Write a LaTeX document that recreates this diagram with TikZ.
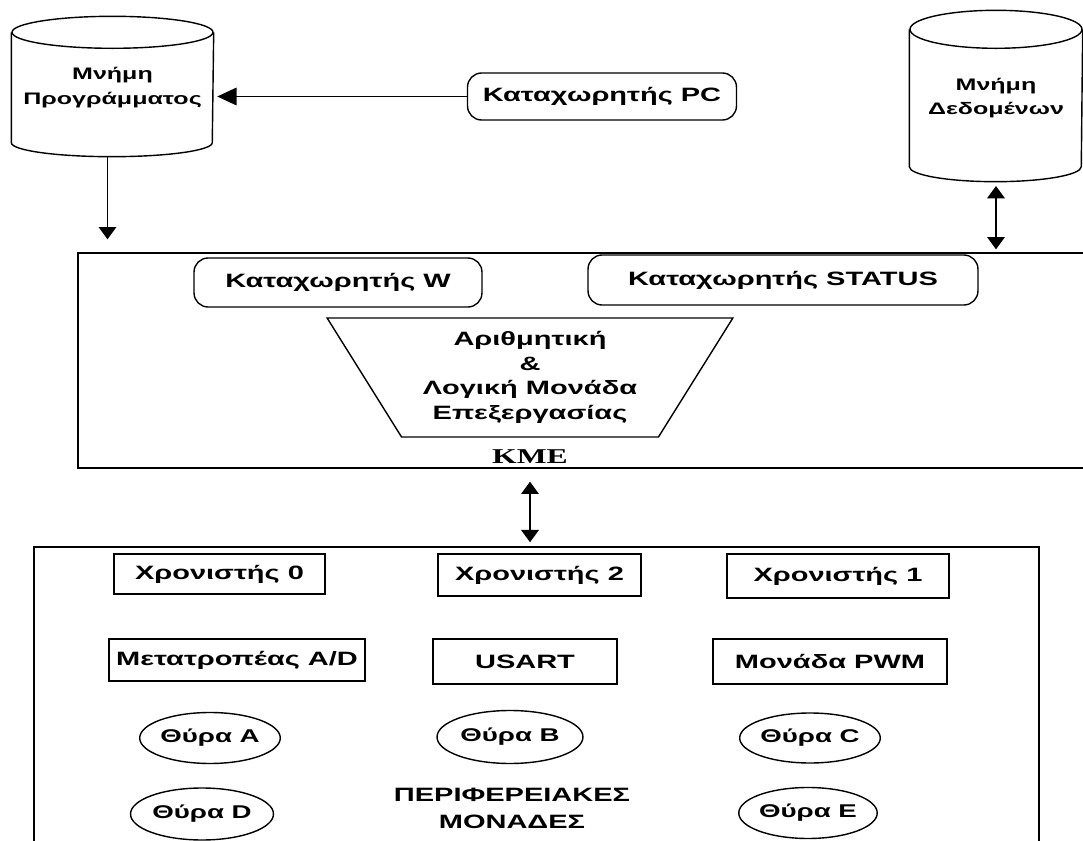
\documentclass[tikz,border=0pt]{standalone}
\usepackage{fontspec}
\setmainfont{Liberation Sans}[FakeStretch=1.5]
\newfontfamily\kmefont{Liberation Serif}[FakeStretch=1.5]
\usetikzlibrary{arrows.meta,shapes.geometric}

\begin{document}
\begin{tikzpicture}[x=0.02cm, y=-0.02cm, line width=0.8pt,
      every node/.append style={font=\bfseries\fontsize{11}{14}\selectfont, align=center, inner sep=0pt},
      memory/.style={rectangle, font=\bfseries\fontsize{9.5}{14}\selectfont},
      reg/.style={draw, rounded corners=8pt},
      unit/.style={draw, rectangle},
      port/.style={draw, ellipse, font=\bfseries\fontsize{10.5}{12}\selectfont},
      bus/.style={-{Triangle[length=7pt,width=10pt]}},
      bibus/.style={{Triangle[length=7pt,width=10pt]}-{Triangle[length=7pt,width=10pt]}}]
    \useasboundingbox (0,0) rectangle (1083,841);
    \clip (0,0) rectangle (1083,841);

    \node (progmem) [memory, minimum width=4.02cm, minimum height=2.18cm] at (112.5,87.5) {Μνήμη\\Προγράμματος};
    \draw (progmem.north) ellipse [x radius=2.01cm, y radius=0.32cm];
    \draw (progmem.north west) -- (progmem.south west) arc [start angle=180, end angle=360, x radius=2.01cm, y radius=0.28cm] -- (progmem.north east);
    \node (datamem) [memory, minimum width=3.44cm, minimum height=2.72cm] at (996,98) {Μνήμη\\Δεδομένων};
    \draw (datamem.north) ellipse [x radius=1.72cm, y radius=0.38cm];
    \draw (datamem.north west) -- (datamem.south west) arc [start angle=180, end angle=360, x radius=1.72cm, y radius=0.3cm] -- (datamem.north east);
    \node (PC) [reg, minimum width=5.38cm, minimum height=0.94cm] at (602,96.5) {Καταχωρητής PC};

    \node (CPU) [unit, minimum width=20.24cm, minimum height=4.3cm] at (584,360.5) {};
    \node (W) [reg, minimum width=5.76cm, minimum height=0.98cm] at (338,282.5) {Καταχωρητής W};
    \node (STATUS) [reg, minimum width=7.8cm, minimum height=1cm] at (783,280) {Καταχωρητής STATUS};
    \node (alu) [draw, trapezium, shape border rotate=180, trapezium left angle=56, trapezium right angle=56,
      trapezium stretches=true, minimum width=8.12cm, minimum height=2.38cm] at (530,377.5)
      {Αριθμητική\\\&\\Λογική Μονάδα\\Επεξεργασίας};
    \node (kme) [font=\kmefont\bfseries\fontsize{12}{14}\selectfont] at (530,457) {ΚΜΕ};

    \node (periph) [unit, minimum width=20.1cm, minimum height=7.06cm] at (536.5,723.5) {};
    \node (T0) [unit, minimum width=4.22cm, minimum height=0.8cm] at (219.5,574) {Χρονιστής 0};
    \node (T2) [unit, minimum width=4.06cm, minimum height=0.84cm] at (539.5,575) {Χρονιστής 2};
    \node (T1) [unit, minimum width=4.44cm, minimum height=0.88cm] at (838,576) {Χρονιστής 1};
    \node (ADC) [unit, minimum width=5.12cm, minimum height=0.84cm] at (237,660) {Μετατροπέας A/D};
    \node (USART) [unit, minimum width=3.68cm, minimum height=0.9cm] at (525,661.5) {USART};
    \node (PWM) [unit, minimum width=4.68cm, minimum height=0.9cm] at (830,661.5) {Μονάδα PWM};
    \node (portA) [port, minimum width=2.7cm, minimum height=1.02cm] at (210,738) {Θύρα A};
    \node (portB) [port, minimum width=2.92cm, minimum height=1.06cm] at (510,737) {Θύρα B};
    \node (portC) [port, minimum width=2.7cm, minimum height=1cm] at (810,738) {Θύρα C};
    \node (portD) [port, minimum width=2.86cm, minimum height=1.04cm] at (202,814) {Θύρα D};
    \node (portE) [port, minimum width=2.7cm, minimum height=1.02cm] at (808,813) {Θύρα E};
    \node (periphlabel) [font=\bfseries\fontsize{11}{15.4}\selectfont] at (512,808) {ΠΕΡΙΦΕΡΕΙΑΚΕΣ\\ΜΟΝΑΔΕΣ};

    \draw[-{Triangle[length=11pt,width=10pt]}, shorten >=2pt] (PC.west) -- (progmem.east |- PC.west);
    \draw[bus, shorten <=8pt, shorten >=7.4pt] ([xshift=-0.1cm]progmem.south) -- ([xshift=-0.1cm]progmem.south |- CPU.north);
    \draw[bibus, shorten <=11pt, shorten >=1.7pt] (datamem.south) -- (datamem.south |- CPU.north);
    \draw[bibus, shorten <=7.4pt, shorten >=2.3pt] (kme |- CPU.south) -- (kme |- periph.north);
\end{tikzpicture}
\end{document}
